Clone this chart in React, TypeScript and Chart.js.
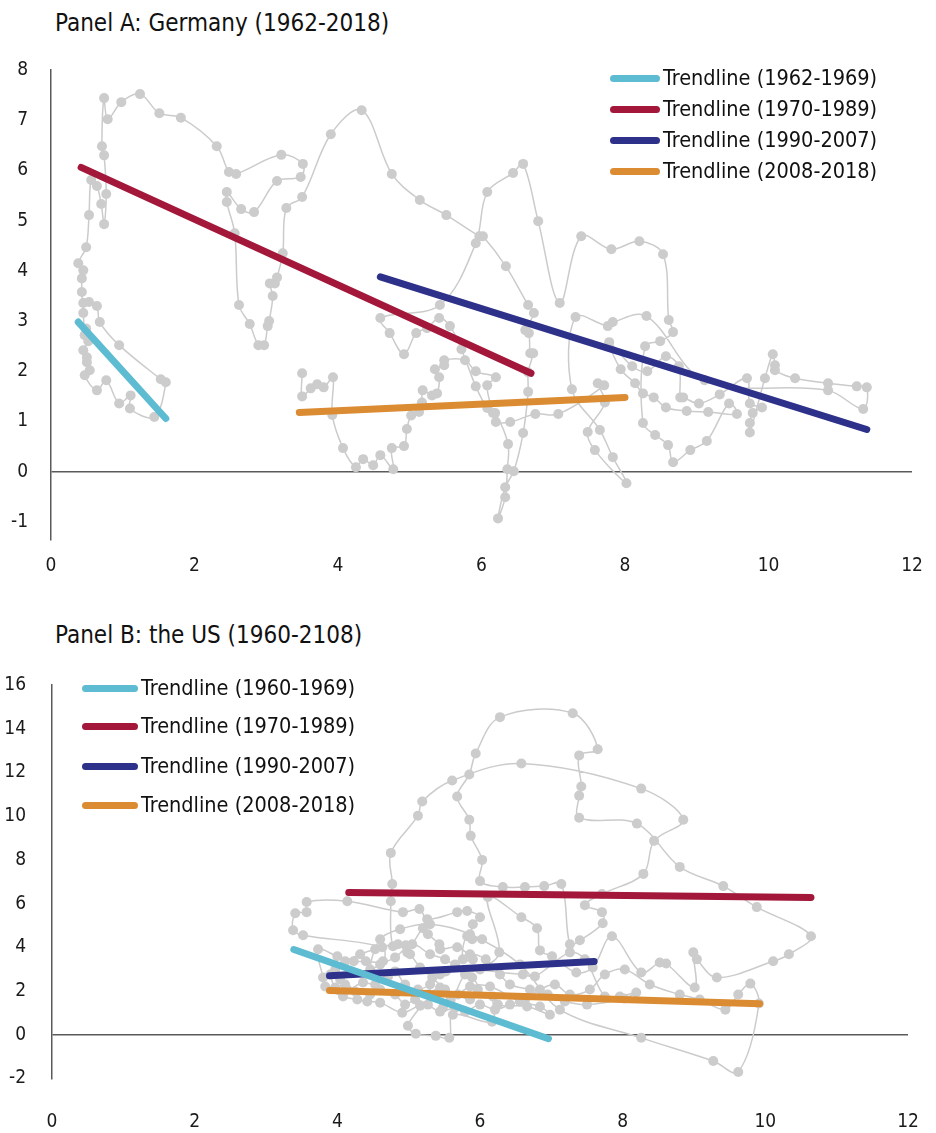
import React, { useEffect, useRef } from "react";
import { Chart, registerables } from "chart.js";

Chart.register(...registerables);

const FONT = "'Liberation Sans Narrow', 'DejaVu Sans Condensed', 'Arial Narrow', sans-serif";

// ---------- Panel A: Germany (unemployment %, inflation %) ----------
const dePath1962to1969: [number, number][] = [
  [0.45, 3.36], [0.53, 3.38], [0.64, 3.3], [0.68, 2.98], [0.95, 2.52], [1.53, 1.84], [1.6, 1.78],
  [1.44, 1.09], [1.1, 1.26], [1.11, 1.52], [0.95, 1.36], [0.77, 1.82], [0.64, 1.62], [0.47, 1.92],
  [0.54, 2.02], [0.5, 2.18], [0.5, 2.28], [0.45, 2.42], [0.52, 2.6], [0.49, 2.85], [0.47, 2.72],
  [0.45, 3.16], [0.43, 3.58], [0.43, 3.85], [0.45, 4.01], [0.38, 4.15],
];
const dePath1970to1989: [number, number][] = [
  [0.49, 4.47], [0.53, 5.11], [0.56, 5.81], [0.64, 5.69], [0.7, 5.33], [0.74, 4.93], [0.77, 5.53],
  [0.74, 6.3], [0.71, 6.48], [0.74, 7.44], [0.79, 7.02], [0.98, 7.36], [1.24, 7.52], [1.51, 7.14],
  [1.81, 7.05], [2.31, 6.48], [2.48, 5.97], [2.58, 5.93], [3.21, 6.31], [3.51, 6.13], [3.48, 5.87],
  [3.15, 5.79], [2.83, 5.17], [2.65, 5.23], [2.45, 5.57], [2.45, 5.37], [2.56, 4.75], [2.62, 3.32],
  [2.77, 2.94], [2.89, 2.52], [2.97, 2.52], [3.02, 2.9], [3.04, 3.0], [3.09, 3.5], [3.05, 3.75],
  [3.12, 3.75], [3.15, 3.87], [3.23, 4.35], [3.28, 5.25], [3.5, 5.47], [3.9, 6.72], [4.33, 7.2],
  [4.75, 5.93], [5.14, 5.41], [5.51, 5.11], [5.97, 4.69], [6.02, 4.69], [6.34, 4.09], [6.65, 3.32],
  [6.73, 3.16], [6.61, 2.82], [6.66, 2.76], [6.68, 2.36], [6.72, 2.36], [6.65, 1.98], [6.65, 1.59],
  [6.58, 0.77], [6.45, 0.01], [6.33, -0.31], [6.23, -0.93], [6.33, -0.51], [6.36, 0.05], [6.37, 0.55],
  [6.19, 1.17], [6.08, 1.27], [5.92, 1.7], [5.72, 2.44], [5.56, 2.9], [5.41, 3.06], [5.24, 2.86],
  [5.09, 2.76], [4.92, 2.34], [4.72, 2.76], [4.59, 3.06],
];
const dePath1990to2007: [number, number][] = [
  [5.42, 3.32], [5.92, 4.55], [6.08, 5.57], [6.44, 5.95], [6.58, 6.13], [6.79, 4.99], [7.09, 3.36],
  [7.39, 4.69], [7.81, 4.43], [8.2, 4.59], [8.53, 4.33], [8.61, 3.02], [8.67, 2.78], [8.49, 2.6],
  [8.28, 2.5], [8.25, 0.97], [8.42, 0.73], [8.6, 0.53], [8.67, 0.19], [8.91, 0.43], [9.14, 0.61],
  [9.45, 1.36], [9.56, 1.15], [9.16, 1.19], [8.86, 1.21], [8.57, 1.28], [8.4, 1.48], [8.25, 1.56],
  [8.14, 1.76], [7.94, 2.04], [7.78, 2.58], [8.1, 2.1], [8.31, 2.0], [8.57, 2.3], [8.75, 2.1],
  [8.77, 1.48], [8.81, 1.48], [9.03, 1.36], [9.32, 1.54], [9.7, 1.86], [9.74, 1.36], [9.91, 1.28],
  [9.78, 1.17], [9.74, 0.97], [9.74, 0.78], [9.95, 1.86], [10.06, 2.34], [10.09, 2.12], [10.09, 2.02],
  [10.37, 1.86], [10.83, 1.76], [11.23, 1.7], [11.37, 1.68], [11.32, 1.25], [10.83, 1.62], [9.11, 1.82],
  [8.3, 3.1], [7.83, 2.98],
];
const dePath2008to2018: [number, number][] = [
  [7.76, 2.9], [7.31, 3.08], [7.26, 1.64], [7.65, 0.83], [7.83, 0.29], [8.02, -0.23], [7.58, 0.43],
  [7.48, 0.79], [7.72, 1.38], [7.62, 1.76], [7.71, 1.72], [7.07, 1.15], [6.75, 1.15], [6.4, 0.99],
  [6.2, 0.99], [6.16, 1.17], [6.08, 1.72], [6.2, 1.88], [5.92, 2.0], [5.77, 2.22], [5.48, 2.22],
  [5.48, 2.12], [5.35, 2.04], [5.41, 1.88], [5.38, 1.56], [5.31, 1.52], [5.18, 1.62], [5.17, 1.38],
  [5.13, 1.19], [5.02, 1.12], [4.96, 0.85], [4.92, 0.51], [4.75, 0.47], [4.77, 0.05], [4.59, 0.33],
  [4.49, 0.13], [4.35, 0.25], [4.25, 0.09], [4.07, 0.47], [3.92, 1.13], [3.93, 1.88], [3.8, 1.68],
  [3.71, 1.74], [3.62, 1.66], [3.5, 1.5], [3.5, 1.96],
];
const deTrendLabels = ["Trendline (1962-1969)", "Trendline (1970-1989)", "Trendline (1990-2007)", "Trendline (2008-2018)"];
const deTrendStart: [number, number][] = [[0.38, 2.98], [0.42, 6.06], [4.59, 3.88], [3.46, 1.18]];
const deTrendEnd: [number, number][] = [[1.6, 1.06], [6.69, 1.96], [11.37, 0.84], [8.0, 1.48]];
const deYTicks = [-1, 0, 1, 2, 3, 4, 5, 6, 7, 8];

// ---------- Panel B: the US ----------
const usPath1960to1969: [number, number][] = [
  [5.48, 1.24], [5.86, 2.21], [6.14, 2.21], [6.56, 1.52], [6.84, 1.29], [6.98, 0.92], [6.66, 1.29],
  [6.25, 1.38], [6.18, 1.75], [6.17, 0.6], [5.62, 0.92], [5.57, -0.14], [5.38, -0.05], [5.1, 0.05],
  [4.99, 0.41], [5.16, 1.33], [4.91, 1.01], [4.6, 1.47], [4.42, 1.52], [4.28, 1.61], [4.08, 1.75],
  [3.83, 2.21], [3.8, 2.62], [3.73, 3.91], [4.0, 3.59], [4.23, 3.36], [4.4, 3.36], [4.64, 3.36],
  [4.63, 4.0], [3.52, 4.55], [3.38, 4.78], [3.41, 5.56], [3.57, 5.61], [3.57, 6.07],
];
const usPath1970to1989: [number, number][] = [
  [4.14, 6.11], [4.92, 5.61], [5.15, 5.75], [5.26, 5.29], [5.68, 5.61], [5.82, 5.66], [6.0, 5.38],
  [5.9, 5.06], [5.89, 4.37], [6.03, 4.37], [5.82, 4.51], [5.76, 3.45], [5.9, 3.45], [5.68, 4.0],
  [5.44, 3.91], [5.43, 4.14], [5.27, 4.6], [5.2, 4.87], [4.98, 3.77], [4.96, 4.09], [4.78, 4.05],
  [4.75, 6.11], [4.77, 6.9], [4.75, 8.32], [5.13, 10.02], [5.19, 10.67], [5.61, 11.63], [6.58, 12.41],
  [8.26, 11.26], [8.85, 9.84], [8.44, 8.87], [8.29, 7.36], [7.71, 6.44], [7.47, 5.93], [7.71, 5.61],
  [7.72, 5.1], [7.4, 4.32], [7.26, 4.14], [7.14, 6.9], [6.9, 6.8], [6.63, 6.76], [6.32, 6.76],
  [6.0, 7.03], [6.03, 8.0], [5.87, 9.1], [5.85, 9.84], [5.68, 10.9], [5.85, 11.91], [5.94, 12.87],
  [6.28, 14.53], [7.3, 14.71], [7.65, 13.06], [7.39, 12.78], [7.42, 11.36], [7.39, 10.94], [7.39, 9.93],
  [8.2, 9.66], [8.8, 7.68], [9.41, 6.8], [9.88, 5.84], [10.64, 4.51], [10.33, 3.68], [10.11, 3.36],
  [9.32, 2.62], [9.04, 3.45], [8.99, 3.77], [9.01, 2.16], [8.61, 3.26], [8.52, 3.31], [8.26, 2.85],
  [7.85, 4.51], [7.58, 3.08], [7.35, 2.85], [7.01, 3.59], [6.84, 3.86], [6.8, 4.87], [6.58, 5.38],
  [6.11, 6.3], [6.27, 3.77], [6.0, 2.99], [5.79, 2.76], [5.59, 1.61], [5.44, 2.16], [5.27, 1.84],
  [5.52, 2.9],
];
const usPath1990to2007: [number, number][] = [
  [6.6, 2.76], [6.77, 2.67], [7.26, 3.77], [7.47, 3.45], [7.75, 1.75], [7.96, 1.75], [8.19, 1.93],
  [8.02, 1.66], [7.5, 1.38], [7.19, 1.52], [6.95, 1.84], [6.7, 2.07], [6.42, 2.3], [6.28, 2.76],
  [6.08, 3.45], [5.86, 3.68], [5.65, 3.22], [5.44, 2.76], [5.3, 2.3], [5.13, 2.07], [4.95, 2.3],
  [4.81, 2.9], [4.71, 2.67], [4.53, 2.3], [4.36, 2.39], [4.14, 2.07], [4.04, 2.53], [3.97, 2.99],
  [4.11, 3.36], [4.32, 3.68], [4.53, 3.91], [4.85, 4.14], [5.02, 3.68], [5.16, 3.08], [5.33, 2.62],
  [5.51, 2.07], [5.69, 1.84], [5.86, 1.61], [5.97, 2.07], [5.89, 2.62], [5.51, 3.45], [5.3, 3.68],
  [5.05, 4.14], [4.81, 3.54], [4.6, 3.22], [4.46, 2.99], [4.6, 4.37], [4.88, 4.83],
];
const usPath2008to2018: [number, number][] = [
  [5.3, 5.06], [5.86, 4.6], [6.56, 3.22], [7.12, 1.15], [8.26, -0.14], [9.27, -1.2], [9.62, -1.7],
  [9.91, 1.43], [9.79, 2.34], [9.62, 1.84], [9.44, 1.15], [9.08, 1.61], [8.8, 1.84], [8.38, 2.3],
  [8.03, 2.99], [7.75, 2.76], [7.54, 2.07], [7.26, 1.84], [7.05, 2.3], [6.84, 2.07], [6.63, 1.61],
  [6.42, 1.38], [6.21, 1.15], [6.0, 1.38], [5.79, 1.06], [5.65, 1.24], [5.44, 1.06], [5.27, 1.38],
  [5.09, 1.61], [4.95, 1.38], [4.81, 1.84], [4.6, 2.07], [4.46, 1.84], [4.25, 1.98], [4.11, 2.3],
  [3.97, 2.16], [3.9, 2.76],
];
const usTrendLabels = ["Trendline (1960-1969)", "Trendline (1970-1989)", "Trendline (1990-2007)", "Trendline (2008-2018)"];
const usTrendStart: [number, number][] = [[3.39, 3.9], [4.16, 6.51], [3.89, 2.7], [3.89, 2.02]];
const usTrendEnd: [number, number][] = [[6.96, -0.18], [10.64, 6.28], [7.6, 3.35], [9.92, 1.42]];
const usYTicks = [-2, 0, 2, 4, 6, 8, 10, 12, 14, 16];

const xTicks = [0, 2, 4, 6, 8, 10, 12];
const trendColors = ["#5dbcd1", "#a3183a", "#2e3189", "#db8c32"];

type PanelProps = {
  top: number;
  height: number;
  path: [number, number][];
  trendStart: [number, number][];
  trendEnd: [number, number][];
  yMin: number;
  yMax: number;
  yTicks: number[];
  yWidth: number;
  yPad: number;
  rightPad: number;
  xAxisHeight: number;
  xPad: number;
};

function PanelChart(p: PanelProps) {
  const ref = useRef<HTMLCanvasElement | null>(null);
  useEffect(() => {
    if (!ref.current) return;
    const trendSets = p.trendStart.map((s, i) => ({
      label: "t" + i,
      data: [
        { x: s[0], y: s[1] },
        { x: p.trendEnd[i][0], y: p.trendEnd[i][1] },
      ],
      showLine: true,
      borderColor: trendColors[i],
      backgroundColor: trendColors[i],
      borderWidth: 7,
      borderCapStyle: "round" as const,
      pointRadius: 0,
      pointHoverRadius: 0,
      order: i + 1,
    }));
    const chart = new Chart(ref.current, {
      type: "scatter",
      data: {
        datasets: [
          ...trendSets,
          {
            label: "path",
            data: p.path.map(([x, y]) => ({ x, y })),
            showLine: true,
            borderColor: "#cbcbcb",
            borderWidth: 1.5,
            tension: 0.35,
            pointRadius: 5,
            pointHoverRadius: 5,
            pointBackgroundColor: "#cccccc",
            pointBorderWidth: 0,
            pointBorderColor: "#cccccc",
            order: 10,
          } as any,
        ],
      },
      options: {
        animation: false,
        responsive: false,
        maintainAspectRatio: false,
        events: [],
        layout: { padding: { top: 20, right: p.rightPad, left: 0, bottom: 0 } },
        plugins: { legend: { display: false }, tooltip: { enabled: false }, title: { display: false } },
        scales: {
          x: {
            type: "linear",
            min: 0,
            max: 12,
            afterBuildTicks: (s: any) => {
              s.ticks = xTicks.map((v) => ({ value: v }));
            },
            afterFit: (s: any) => {
              s.height = p.xAxisHeight;
              s.paddingLeft = 0;
              s.paddingRight = 0;
            },
            ticks: { padding: p.xPad, font: { family: FONT, size: 19 }, color: "#1a1a1a" },
            grid: { display: false, drawTicks: false },
            border: { display: false },
          },
          y: {
            type: "linear",
            min: p.yMin,
            max: p.yMax,
            afterBuildTicks: (s: any) => {
              s.ticks = p.yTicks.map((v) => ({ value: v }));
            },
            afterFit: (s: any) => {
              s.width = p.yWidth;
              s.paddingTop = 0;
              s.paddingBottom = 0;
            },
            ticks: { padding: p.yPad, font: { family: FONT, size: 19 }, color: "#1a1a1a" },
            grid: {
              drawTicks: false,
              lineWidth: 1.5,
              color: (c: any) => (c.tick && c.tick.value === 0 ? "#5a5a5a" : "rgba(0,0,0,0)"),
            },
            border: { display: true, color: "#5a5a5a", width: 1.5 },
          },
        },
      },
    });
    return () => chart.destroy();
  }, []);
  return (
    <canvas
      ref={ref}
      width={928}
      height={p.height}
      style={{ position: "absolute", left: 0, top: p.top, width: 928, height: p.height }}
    />
  );
}

function Legend(props: { labels: string[]; left: number; rows: number[]; sampleW: number; textLeft: number }) {
  return (
    <>
      {props.labels.map((l, i) => (
        <div key={l} style={{ position: "absolute", left: props.left, top: props.rows[i] - 14, height: 28, display: "flex", alignItems: "center" }}>
          <div style={{ width: props.sampleW, height: 7, borderRadius: 4, background: trendColors[i] }} />
          <div
            style={{
              position: "absolute",
              left: props.textLeft - props.left,
              whiteSpace: "nowrap",
              fontFamily: FONT,
              fontSize: 21.5,
              color: "#111",
              lineHeight: "28px",
            }}
          >
            {l}
          </div>
        </div>
      ))}
    </>
  );
}

export default function App() {
  const titleStyle: React.CSSProperties = {
    position: "absolute",
    left: 55,
    fontFamily: FONT,
    fontSize: 24,
    color: "#111",
    whiteSpace: "nowrap",
    lineHeight: "32px",
  };
  return (
    <div style={{ position: "fixed", left: 0, top: 0, width: 936, height: 1133, overflow: "hidden", background: "#fff" }}>
      <div style={{ ...titleStyle, top: 7 }}>Panel A: Germany (1962-2018)</div>
      <PanelChart
        top={50}
        height={545}
        path={[...dePath1962to1969, ...dePath1970to1989, ...dePath1990to2007, ...dePath2008to2018]}
        trendStart={deTrendStart}
        trendEnd={deTrendEnd}
        yMin={-1.36}
        yMax={8}
        yTicks={deYTicks}
        yWidth={51}
        yPad={23}
        rightPad={16}
        xAxisHeight={55}
        xPad={15}
      />
      <Legend labels={deTrendLabels} left={610} rows={[78, 109, 140, 171]} sampleW={50} textLeft={663} />

      <div style={{ ...titleStyle, top: 619 }}>Panel B: the US (1960-2108)</div>
      <PanelChart
        top={665}
        height={468}
        path={[...usPath1960to1969, ...usPath1970to1989, ...usPath1990to2007, ...usPath2008to2018]}
        trendStart={usTrendStart}
        trendEnd={usTrendEnd}
        yMin={-2}
        yMax={16}
        yTicks={usYTicks}
        yWidth={52}
        yPad={26}
        rightPad={20}
        xAxisHeight={54.5}
        xPad={32}
      />
      <Legend labels={usTrendLabels} left={82} rows={[688, 726, 766, 805]} sampleW={56} textLeft={141} />
    </div>
  );
}
